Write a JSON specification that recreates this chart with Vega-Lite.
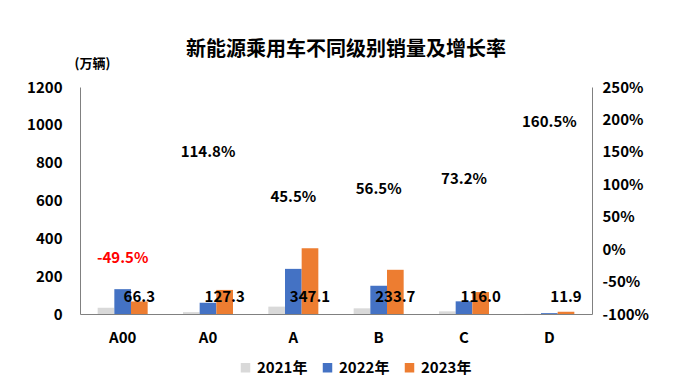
{
  "$schema": "https://vega.github.io/schema/vega-lite/v6.json",
  "width": 512,
  "height": 227,
  "autosize": "none",
  "padding": {"left": 80, "top": 87, "right": 100, "bottom": 66},
  "background": "white",
  "title": {
    "text": "新能源乘用车不同级别销量及增长率",
    "font": "Noto Sans CJK SC",
    "fontSize": 20,
    "fontWeight": "bold",
    "color": "#000000",
    "anchor": "middle",
    "dx": 10,
    "offset": -3
  },
  "config": {
    "font": "Noto Sans CJK SC",
    "locale": {
      "number": {"decimal": ".", "thousands": "", "grouping": [3], "currency": ["", ""], "minus": "-"}
    },
    "view": {"stroke": null},
    "axis": {
      "grid": false,
      "ticks": false,
      "domainColor": "#808080",
      "domainWidth": 1,
      "labelFont": "Noto Sans CJK SC",
      "labelFontSize": 15,
      "labelFontWeight": "bold",
      "labelColor": "#000000"
    }
  },
  "datasets": {
    "sales": [
      {"category": "A00", "year": "2021年", "value": 33},
      {"category": "A00", "year": "2022年", "value": 131.3},
      {"category": "A00", "year": "2023年", "value": 66.3},
      {"category": "A0", "year": "2021年", "value": 10},
      {"category": "A0", "year": "2022年", "value": 59.3},
      {"category": "A0", "year": "2023年", "value": 127.3},
      {"category": "A", "year": "2021年", "value": 39},
      {"category": "A", "year": "2022年", "value": 238.6},
      {"category": "A", "year": "2023年", "value": 347.1},
      {"category": "B", "year": "2021年", "value": 30},
      {"category": "B", "year": "2022年", "value": 149.3},
      {"category": "B", "year": "2023年", "value": 233.7},
      {"category": "C", "year": "2021年", "value": 14},
      {"category": "C", "year": "2022年", "value": 67.0},
      {"category": "C", "year": "2023年", "value": 116.0},
      {"category": "D", "year": "2021年", "value": 1},
      {"category": "D", "year": "2022年", "value": 4.6},
      {"category": "D", "year": "2023年", "value": 11.9}
    ],
    "growth": [
      {"category": "A00", "pct": -0.495},
      {"category": "A0", "pct": 1.148},
      {"category": "A", "pct": 0.455},
      {"category": "B", "pct": 0.565},
      {"category": "C", "pct": 0.732},
      {"category": "D", "pct": 1.605}
    ]
  },
  "layer": [
    {
      "data": {"name": "sales"},
      "mark": {"type": "bar"},
      "encoding": {
        "x": {
          "field": "category",
          "type": "nominal",
          "sort": ["A00", "A0", "A", "B", "C", "D"],
          "scale": {"paddingInner": 0.414, "paddingOuter": 0.207},
          "axis": {"title": null, "labelAngle": 0, "labelPadding": 16}
        },
        "xOffset": {
          "field": "year",
          "type": "nominal",
          "sort": ["2021年", "2022年", "2023年"],
          "scale": {"paddingInner": 0, "paddingOuter": 0}
        },
        "y": {
          "field": "value",
          "type": "quantitative",
          "scale": {"domain": [0, 1200], "nice": false},
          "axis": {
            "values": [0, 200, 400, 600, 800, 1000, 1200],
            "format": "d",
            "labelPadding": 18,
            "title": "(万辆)",
            "titleAngle": 0,
            "titleX": 12,
            "titleY": -24,
            "titleAlign": "center",
            "titleBaseline": "middle",
            "titleFontSize": 13,
            "titleFontWeight": "bold",
            "titleColor": "#000000"
          }
        },
        "color": {
          "field": "year",
          "type": "nominal",
          "scale": {"domain": ["2021年", "2022年", "2023年"], "range": ["#D9D9D9", "#4472C4", "#ED7D31"]},
          "legend": {
            "orient": "none",
            "legendX": 158,
            "legendY": 273,
            "direction": "horizontal",
            "title": null,
            "symbolType": "square",
            "symbolSize": 90,
            "symbolStrokeWidth": 0,
            "labelFontSize": 15,
            "labelFontWeight": "bold",
            "labelColor": "#000000",
            "labelOffset": 4,
            "columnPadding": 12
          }
        }
      }
    },
    {
      "data": {"name": "sales"},
      "transform": [{"filter": "datum.year === '2023年'"}],
      "mark": {"type": "text", "dy": -17, "fontSize": 15, "fontWeight": "bold", "color": "#000000"},
      "encoding": {
        "x": {"field": "category", "type": "nominal", "sort": ["A00", "A0", "A", "B", "C", "D"]},
        "xOffset": {"field": "year", "type": "nominal", "sort": ["2021年", "2022年", "2023年"]},
        "y": {"datum": 0, "type": "quantitative", "scale": {"domain": [0, 1200], "nice": false}, "axis": null},
        "text": {"field": "value", "type": "quantitative", "format": ".1f"}
      }
    },
    {
      "data": {"name": "growth"},
      "mark": {"type": "text", "dy": -23, "fontSize": 15, "fontWeight": "bold"},
      "encoding": {
        "x": {"field": "category", "type": "nominal", "sort": ["A00", "A0", "A", "B", "C", "D"]},
        "y": {
          "field": "pct",
          "type": "quantitative",
          "scale": {"domain": [-1, 2.5], "nice": false, "zero": false},
          "axis": {
            "orient": "right",
            "format": ".0%",
            "values": [-1, -0.5, 0, 0.5, 1, 1.5, 2, 2.5],
            "labelPadding": 10,
            "title": null
          }
        },
        "text": {"field": "pct", "type": "quantitative", "format": ".1%"},
        "color": {"condition": {"test": "datum.pct < 0", "value": "#FF0000"}, "value": "#000000"}
      }
    }
  ],
  "resolve": {"scale": {"y": "independent"}}
}
